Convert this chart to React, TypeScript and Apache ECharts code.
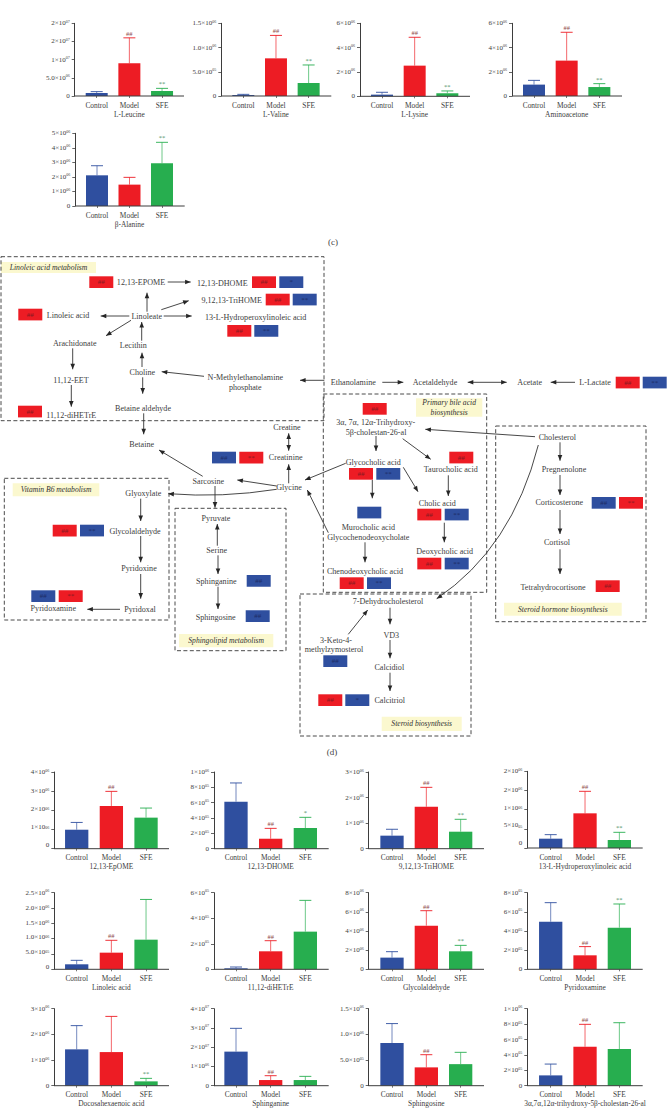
import React, { useEffect, useRef } from "react";
import * as echarts from "echarts";

const W = 667;
const H = 1110;
const SERIF = '"Liberation Serif", serif';
const INK = "#3d3d3d";
const BLUE = "#2f4f9f";
const RED = "#ed1c24";
const GREEN = "#27ae4f";
const categories = ["Control", "Model", "SFE"];
const barColors = [BLUE, RED, GREEN];
const sigColors = ["#555", "#8f4a4a", "#4f9468"];

// ---- bar-chart values: means, upper error limits, tick labels, significance
const leucineMean = [8.3e5, 8.99e6, 1.38e6];
const leucineUpper = [1.2e6, 1.6e7, 2.1e6];
const leucineTicks = ["0", "5.0×10^06", "1×10^07", "2×10^07", "2×10^07"];
const leucineSig = ["", "##", "**"];

const valineMean = [2e4, 7.77e5, 2.68e5];
const valineUpper = [3.4e4, 1.25e6, 6.4e5];
const valineTicks = ["0", "5.0×10^05", "1.0×10^06", "1.5×10^06"];
const valineSig = ["", "##", "**"];

const lysineMean = [1.37e5, 2.52e6, 2.5e5];
const lysineUpper = [3.3e5, 4.85e6, 4.4e5];
const lysineTicks = ["0", "2×10^06", "4×10^06", "6×10^06"];
const lysineSig = ["", "##", "**"];

const aminoacetoneMean = [9.4e5, 2.92e6, 7.4e5];
const aminoacetoneUpper = [1.29e6, 5.26e6, 1.02e6];
const aminoacetoneTicks = ["0", "2×10^06", "4×10^06", "6×10^06"];
const aminoacetoneSig = ["", "##", "**"];

const alanineMean = [2.11e6, 1.47e6, 2.94e6];
const alanineUpper = [2.77e6, 1.97e6, 4.38e6];
const alanineTicks = ["0", "1×10^06", "2×10^06", "3×10^06", "4×10^06", "5×10^06"];
const alanineSig = ["", "", "**"];

const epomeMean = [9.9e5, 2.23e6, 1.62e6];
const epomeUpper = [1.37e6, 2.99e6, 2.12e6];
const epomeTicks = ["0", "1×10^06", "2×10^06", "3×10^06", "4×10^06"];
const epomeSig = ["", "##", ""];

const dhomeMean = [6.13e5, 1.3e5, 2.7e5];
const dhomeUpper = [8.57e5, 2.65e5, 4.09e5];
const dhomeTicks = ["0", "2×10^05", "4×10^05", "6×10^05", "8×10^05", "1×10^06"];
const dhomeSig = ["", "##", "*"];

const trihomeMean = [5.1e5, 1.64e6, 6.65e5];
const trihomeUpper = [7.6e5, 2.4e6, 1.15e6];
const trihomeTicks = ["0", "1×10^06", "2×10^06", "3×10^06"];
const trihomeSig = ["", "##", "**"];

const hydroMean = [2.43e5, 9.04e5, 2.09e5];
const hydroUpper = [3.48e5, 1.478e6, 4.09e5];
const hydroTicks = ["0", "5×10^05", "1×10^06", "2×10^06", "2×10^06"];
const hydroSig = ["", "##", "**"];

const linoleicMean = [1.63e5, 5.43e5, 9.67e5];
const linoleicUpper = [2.93e5, 9.46e5, 2.28e6];
const linoleicTicks = ["0", "5.0×10^05", "1.0×10^06", "1.5×10^06", "2.0×10^06", "2.5×10^06"];
const linoleicSig = ["", "##", ""];

const dihetreMean = [7.8e3, 1.41e5, 2.95e5];
const dihetreUpper = [1.8e4, 2.24e5, 5.4e5];
const dihetreTicks = ["0", "2×10^05", "4×10^05", "6×10^05"];
const dihetreSig = ["", "##", ""];

const glycolaldehydeMean = [1.22e6, 4.56e6, 1.88e6];
const glycolaldehydeUpper = [1.84e6, 6.12e6, 2.5e6];
const glycolaldehydeTicks = ["0", "2×10^06", "4×10^06", "6×10^06", "8×10^06"];
const glycolaldehydeSig = ["", "##", "**"];

const pyridoxamineMean = [4.97e5, 1.46e5, 4.35e5];
const pyridoxamineUpper = [6.96e5, 2.37e5, 6.82e5];
const pyridoxamineTicks = ["0", "2×10^05", "4×10^05", "6×10^05", "8×10^05"];
const pyridoxamineSig = ["", "##", "**"];

const dhaMean = [1.416e6, 1.31e6, 1.69e5];
const dhaUpper = [2.34e6, 2.7e6, 2.86e5];
const dhaTicks = ["0", "1×10^06", "2×10^06", "3×10^06"];
const dhaSig = ["", "", "**"];

const sphinganineMean = [1.77e7, 2.94e6, 2.94e6];
const sphinganineUpper = [2.98e7, 5.2e6, 4.85e6];
const sphinganineTicks = ["0", "1×10^06", "2×10^07", "3×10^07", "4×10^07"];
const sphinganineSig = ["", "##", ""];

const sphingosineMean = [8.3e5, 3.57e5, 4.2e5];
const sphingosineUpper = [1.21e6, 6.04e5, 6.5e5];
const sphingosineTicks = ["0", "5.0×10^05", "1.0×10^06", "1.5×10^06"];
const sphingosineSig = ["", "##", ""];

const trihydroxyMean = [1.34e5, 5.06e5, 4.76e5];
const trihydroxyUpper = [2.81e5, 7.97e5, 8.18e5];
const trihydroxyTicks = ["0", "2×10^05", "4×10^05", "6×10^05", "8×10^05", "1×10^06"];
const trihydroxySig = ["", "##", ""];

// how far the printed tick labels sit above their ticks in three panels (px)
const epomeLabelLift = [4, 2.3, 1, 0, 0];
const hydroLabelLift = [4.7, 3.5, 1.7, 0.8, 0];
const linoleicLabelLift = [2.3, 1.7, 1.3, 0, 0, 0];

// ---- panel table: [title, mean, upper, ticks, sig, axis max, interval, layout, label lift]
const colA = { axisL: 54.3, axisR: 169, c0: 76.7, band: 34.67, barW: 23.3 };
const colB = { axisL: 214, axisR: 328.7, c0: 236, band: 34.67, barW: 23.3 };
const colC = { axisL: 368.7, axisR: 484, c0: 392, band: 34.33, barW: 23.3 };
const colD = { axisL: 527.3, axisR: 642.7, c0: 550.7, band: 34.33, barW: 23.3 };

const panels: any[] = [
  ["L-Leucine", leucineMean, leucineUpper, leucineTicks, leucineSig, 2e7, 5e6, { axisL: 74.7, axisR: 184, c0: 96.7, band: 32.67, barW: 22, top: 23.3, base: 96 }],
  ["L-Valine", valineMean, valineUpper, valineTicks, valineSig, 1.5e6, 5e5, { axisL: 221.3, axisR: 331.3, c0: 243.3, band: 32.67, barW: 22, top: 23.3, base: 96 }],
  ["L-Lysine", lysineMean, lysineUpper, lysineTicks, lysineSig, 6e6, 2e6, { axisL: 360, axisR: 470, c0: 382, band: 32.67, barW: 22, top: 23.3, base: 96.3 }],
  ["Aminoacetone", aminoacetoneMean, aminoacetoneUpper, aminoacetoneTicks, aminoacetoneSig, 6e6, 2e6, { axisL: 512, axisR: 622, c0: 534, band: 32.67, barW: 22, top: 23.3, base: 96 }],
  ["β-Alanine", alanineMean, alanineUpper, alanineTicks, alanineSig, 5e6, 1e6, { axisL: 75.3, axisR: 184.7, c0: 97, band: 32.5, barW: 22, top: 133.3, base: 206 }],
  ["12,13-EpOME", epomeMean, epomeUpper, epomeTicks, epomeSig, 4e6, 1e6, { ...colA, top: 772, base: 848.7 }, epomeLabelLift],
  ["12,13-DHOME", dhomeMean, dhomeUpper, dhomeTicks, dhomeSig, 1e6, 2e5, { ...colB, top: 772, base: 848.7 }],
  ["9,12,13-TriHOME", trihomeMean, trihomeUpper, trihomeTicks, trihomeSig, 3e6, 1e6, { ...colC, top: 772, base: 848.7 }],
  ["13-L-Hydroperoxylinoleic acid", hydroMean, hydroUpper, hydroTicks, hydroSig, 2e6, 5e5, { ...colD, top: 771.3, base: 848 }, hydroLabelLift],
  ["Linoleic acid", linoleicMean, linoleicUpper, linoleicTicks, linoleicSig, 2.5e6, 5e5, { ...colA, top: 892.7, base: 969.3 }, linoleicLabelLift],
  ["11,12-diHETrE", dihetreMean, dihetreUpper, dihetreTicks, dihetreSig, 6e5, 2e5, { ...colB, top: 892.7, base: 969.3 }],
  ["Glycolaldehyde", glycolaldehydeMean, glycolaldehydeUpper, glycolaldehydeTicks, glycolaldehydeSig, 8e6, 2e6, { ...colC, top: 892.7, base: 969.3 }],
  ["Pyridoxamine", pyridoxamineMean, pyridoxamineUpper, pyridoxamineTicks, pyridoxamineSig, 8e5, 2e5, { ...colD, top: 892.7, base: 969.3 }],
  ["Docosahexaenoic acid", dhaMean, dhaUpper, dhaTicks, dhaSig, 3e6, 1e6, { ...colA, top: 1008.7, base: 1085.7 }],
  ["Sphinganine", sphinganineMean, sphinganineUpper, sphinganineTicks, sphinganineSig, 4e7, 1e7, { ...colB, top: 1008.7, base: 1085.7 }],
  ["Sphingosine", sphingosineMean, sphingosineUpper, sphingosineTicks, sphingosineSig, 1.5e6, 5e5, { ...colC, top: 1008.7, base: 1085.7 }],
  ["3α,7α,12α-trihydroxy-5β-cholestan-26-al", trihydroxyMean, trihydroxyUpper, trihydroxyTicks, trihydroxySig, 1e6, 2e5, { ...colD, top: 1008.7, base: 1085.7 }],
];

// ---- pathway diagram
// label, centre x, centre y
const nodes: [string, number, number][] = [
  ["12,13-EPOME", 141, 282], ["12,13-DHOME", 222.3, 283.7], ["9,12,13-TriHOME", 231.7, 300],
  ["13-L-Hydroperoxylinoleic acid", 255.7, 317.7], ["Linoleic acid", 68, 315.7], ["Linoleate", 146.7, 316],
  ["Arachidonate", 74.7, 343.3], ["Lecithin", 133.3, 345.3], ["Choline", 142.3, 372.3],
  ["N-Methylethanolamine", 245.3, 377.3], ["phosphate", 245.3, 387.3], ["11,12-EET", 71, 380],
  ["11,12-diHETrE", 71.3, 415], ["Betaine aldehyde", 143, 408.7], ["Betaine", 141.7, 444.3],
  ["Creatine", 287, 427.7], ["Creatinine", 285.7, 457.7], ["Glycine", 289, 487.3], ["Sarcosine", 208.3, 481],
  ["Glyoxylate", 143.3, 493.7], ["Glycolaldehyde", 135, 531], ["Pyridoxine", 139, 568.3],
  ["Pyridoxal", 140, 609.3], ["Pyridoxamine", 53.3, 608.3], ["Pyruvate", 216, 518], ["Serine", 216.7, 550.3],
  ["Sphinganine", 216.3, 581], ["Sphingosine", 215.7, 617.7], ["Ethanolamine", 353.3, 382.3],
  ["Acetaldehyde", 435, 382.3], ["Acetate", 529.7, 382.3], ["L-Lactate", 595, 382.3],
  ["3α, 7α, 12α-Trihydroxy-", 375.7, 422.7], ["5β-cholestan-26-al", 376, 432], ["Glycocholic acid", 373.3, 462.3],
  ["Taurocholic acid", 450.7, 469.7], ["Cholic acid", 437.3, 503], ["Murocholic acid", 368.3, 527],
  ["Glycochenodeoxycholate", 368.3, 537], ["Deoxycholic acid", 444.7, 551.7], ["Chenodeoxycholic acid", 365, 571],
  ["Cholesterol", 557.3, 437], ["Pregnenolone", 564, 469], ["Corticosterone", 559.3, 502.3], ["Cortisol", 557, 542.3],
  ["Tetrahydrocortisone", 553, 587.3], ["7-Dehydrocholesterol", 388, 601], ["VD3", 391.3, 635],
  ["3-Keto-4-", 336, 640.7], ["methylzymosterol", 334, 649.7], ["Calcidiol", 389.3, 667.3], ["Calcitriol", 389.7, 700.7],
];

// colour (r/b), left x, top y, mark
const badges: [string, number, number, string][] = [
  ["r", 89.3, 276.3, "##"], ["r", 252, 276.3, "##"], ["b", 279.3, 276.3, "*"], ["r", 265.7, 293.7, "##"], ["b", 292.7, 293.7, "**"],
  ["r", 18.3, 308.7, "##"], ["r", 227.3, 325, "##"], ["b", 254.3, 325, "**"], ["r", 18, 405.7, "##"],
  ["r", 615.7, 376.7, "##"], ["b", 642.7, 376.7, "**"], ["r", 362.7, 403, "##"], ["r", 449.3, 451.7, "##"],
  ["r", 349, 468, "##"], ["b", 376.3, 468, "**"], ["b", 357.3, 506.7, ""], ["r", 417.3, 508.7, "##"], ["b", 444.7, 508.7, "**"],
  ["r", 417.3, 557.7, "##"], ["b", 444.7, 557.7, "**"], ["r", 339.7, 577.3, "##"], ["b", 367, 577.3, "**"],
  ["b", 591.7, 497, "##"], ["r", 619, 497, "**"], ["r", 595.7, 580.3, "##"], ["b", 212, 451.7, "##"], ["r", 239.3, 451.7, "**"],
  ["r", 52.7, 524.7, "##"], ["b", 80, 524.7, "**"], ["b", 31.3, 590.3, "##"], ["r", 58.7, 590.3, "**"],
  ["b", 246.7, 575, "##"], ["b", 245.7, 610.3, "##"], ["b", 323.3, 655.3, "##"], ["r", 318.3, 694.3, "##"], ["b", 345.3, 694.3, "*"],
];

// x1, y1, x2, y2, double-headed
const arrows: [number, number, number, number, boolean?][] = [
  [167.7, 282, 190.7, 282], [147, 311.7, 147, 292.7], [161.3, 309.7, 188.7, 300.7], [163.7, 316, 191.7, 316],
  [129.3, 316, 100.7, 316], [131, 320.3, 106, 335.7], [72.7, 348.3, 72.7, 369.3], [71.3, 385, 71.3, 406.7],
  [141.7, 340.7, 141.7, 322], [142, 367, 142, 352.7], [204, 376.3, 161.7, 371.7], [324.3, 380.3, 300, 380.3],
  [142.7, 377.3, 142.7, 393.7], [143.7, 413.3, 143.7, 434.3], [288.7, 433.3, 288.7, 450.7, true], [288.7, 483.3, 288.7, 464.3],
  [202.7, 476.3, 159, 450], [276.7, 486, 237.3, 480], [215, 486, 215, 507.7], [140.7, 498.7, 140.7, 521],
  [140.7, 536, 140.7, 562.3], [140.7, 574, 140.7, 598.7], [120, 609.3, 87.3, 609.3], [217.3, 545.7, 217.3, 524],
  [218, 555.3, 218, 574], [218, 586.7, 218, 609], [328.3, 532.7, 307.3, 490], [345.7, 463.3, 305, 480],
  [382.3, 382.3, 403.3, 382.3], [467.7, 382.3, 506.7, 382.3, true], [575, 382.3, 550.7, 382.3], [535, 436.7, 425.3, 429.3],
  [376, 436, 376, 451], [402.7, 438.7, 430.7, 459.3], [448.3, 475.3, 448.3, 496], [403.3, 467.3, 418, 491.7],
  [372.3, 480, 372.3, 498.3], [444.3, 522.7, 444.3, 542.3], [365, 542.3, 365, 562.3], [560, 442.3, 560, 460.7],
  [560, 475, 560, 495], [560, 510, 560, 534], [560, 549.3, 560, 574], [348.3, 634.3, 367.7, 610],
  [390, 607.7, 390, 624.3], [390, 640, 390, 658.3], [390, 672.7, 390, 691],
];

// x1, y1, control x, control y, x2, y2
const curves: [number, number, number, number, number, number][] = [
  [276.7, 489.3, 222, 498, 168.3, 493.7],
  [538.3, 445, 512, 548, 436.7, 598.7],
];

// left, top, right, bottom
const dashedBoxes: [number, number, number, number][] = [
  [1, 256.7, 324, 420.7], [323.3, 394, 486.7, 592.3], [495.7, 426, 646, 621.7],
  [4.3, 478.3, 169, 620], [175, 508.3, 286, 650.7], [300, 594, 471, 736],
];

// left, top, right, bottom, lines of text
const pathwayLabels: [number, number, number, number, string[]][] = [
  [1, 262, 96, 273, ["Linoleic acid metabolism"]],
  [416, 398.3, 482.3, 416.7, ["Primary bile acid", "biosynthesis"]],
  [504, 602.7, 621.7, 615.7, ["Steroid hormone biosynthesis"]],
  [12.7, 483.3, 99.3, 496.3, ["Vitamin B6 metabolism"]],
  [179, 634, 273.3, 647.3, ["Sphingolipid metabolism"]],
  [381.7, 716.7, 461.7, 731, ["Steroid biosynthesis"]],
];

const figureLetters: [string, number, number][] = [["(c)", 333, 242], ["(d)", 332, 751.7]];

function arrowHead(x: number, y: number, fromX: number, fromY: number) {
  const a = Math.atan2(y - fromY, x - fromX);
  const len = 5.6, hw = 2.3;
  const bx = x - Math.cos(a) * len, by = y - Math.sin(a) * len;
  return {
    type: "polygon", silent: true,
    shape: { points: [[x, y], [bx - Math.sin(a) * hw, by + Math.cos(a) * hw], [bx + Math.sin(a) * hw, by - Math.cos(a) * hw]] },
    style: { fill: "#262626" },
  };
}

function buildGraphic() {
  const el: any[] = [];
  pathwayLabels.forEach(([l, t, r, b]) => {
    el.push({ type: "rect", silent: true, shape: { x: l, y: t, width: r - l, height: b - t }, style: { fill: "#fbf8cf" } });
  });
  dashedBoxes.forEach(([l, t, r, b]) => {
    el.push({ type: "rect", silent: true, shape: { x: l, y: t, width: r - l, height: b - t }, style: { fill: "none", stroke: "#4a4a4a", lineWidth: 1, lineDash: [4, 2.4] } });
  });
  pathwayLabels.forEach(([l, t, r, b, lines], i) => {
    const lh = 9.4;
    lines.forEach((s, k) => {
      el.push({
        type: "text", silent: true, x: (l + r) / 2, y: (t + b) / 2 + (k - (lines.length - 1) / 2) * lh,
        style: { text: s, align: "center", verticalAlign: "middle", fontFamily: SERIF, fontStyle: "italic", fontSize: i === 0 ? 7.7 : 7.6, fill: "#333" },
      });
    });
  });
  arrows.forEach(([x1, y1, x2, y2, both]) => {
    el.push({ type: "line", silent: true, shape: { x1, y1, x2, y2 }, style: { stroke: "#333", lineWidth: 0.9 } });
    el.push(arrowHead(x2, y2, x1, y1));
    if (both) el.push(arrowHead(x1, y1, x2, y2));
  });
  curves.forEach(([x1, y1, cx, cy, x2, y2]) => {
    el.push({ type: "bezierCurve", silent: true, shape: { x1, y1, cpx1: cx, cpy1: cy, x2, y2 }, style: { stroke: "#333", lineWidth: 0.9, fill: "none" } });
    el.push(arrowHead(x2, y2, cx, cy));
  });
  badges.forEach(([c, x, y, mark]) => {
    el.push({ type: "rect", silent: true, shape: { x, y, width: 24, height: 11.7 }, style: { fill: c === "r" ? RED : BLUE } });
    if (mark) {
      el.push({
        type: "text", silent: true, x: x + 12, y: y + 6,
        style: { text: mark, align: "center", verticalAlign: "middle", fontFamily: SERIF, fontSize: 7, fill: c === "r" ? "#861a22" : "#1d2c66" },
      });
    }
  });
  nodes.forEach(([s, x, y]) => {
    el.push({
      type: "text", silent: true, x, y,
      style: { text: s, align: "center", verticalAlign: "middle", fontFamily: SERIF, fontSize: 8.1, fill: "#404040" },
    });
  });
  figureLetters.forEach(([s, x, y]) => {
    el.push({ type: "text", silent: true, x, y, style: { text: s, align: "center", verticalAlign: "middle", fontFamily: SERIF, fontSize: 9, fill: "#444" } });
  });
  // x-axis baselines run past the outer category bands
  panels.forEach((p) => {
    const g = p[7];
    el.push({ type: "line", silent: true, z: 5, shape: { x1: g.axisL, y1: g.base, x2: g.axisR, y2: g.base }, style: { stroke: INK, lineWidth: 1 } });
  });
  return el;
}

function buildOption() {
  const grid: any[] = [], xAxis: any[] = [], yAxis: any[] = [], series: any[] = [];
  panels.forEach((p, i) => {
    const [title, mean, upper, ticks, sig, max, interval, g, lift] = p;
    const left = g.c0 - g.band / 2;
    const rich: any = {};
    ticks.forEach((_t: string, k: number) => {
      const pad = [0, 0, 2 * (lift ? lift[k] : 0), 0];
      rich[`b${k}`] = { fontFamily: SERIF, fontSize: 7, color: INK, lineHeight: 8, padding: pad };
      rich[`s${k}`] = { fontFamily: SERIF, fontSize: 4, color: INK, lineHeight: 8, verticalAlign: "top", padding: pad };
    });
    grid.push({ left, top: g.top, width: g.band * 3, height: g.base - g.top, containLabel: false });
    xAxis.push({
      type: "category", gridIndex: i, data: categories,
      name: title, nameLocation: "middle", nameGap: 14.5,
      nameTextStyle: { fontFamily: SERIF, fontSize: 7.4, color: INK },
      axisLine: { show: false },
      axisTick: { show: true, alignWithLabel: true, length: 2, lineStyle: { color: INK, width: 0.7 } },
      axisLabel: { fontFamily: SERIF, fontSize: 7.4, color: INK, margin: 5.5, interval: 0 },
    });
    yAxis.push({
      type: "value", gridIndex: i, min: 0, max, interval, offset: left - g.axisL,
      splitLine: { show: false },
      axisLine: { show: true, lineStyle: { color: INK, width: 1 } },
      axisTick: { show: true, length: 3, lineStyle: { color: INK, width: 0.8 } },
      axisLabel: {
        margin: 5, showMinLabel: true, showMaxLabel: true, hideOverlap: false,
        fontFamily: SERIF, fontSize: 7, color: INK,
        formatter: (_v: number, idx: number) => {
          const t = ticks[idx] ?? "";
          const [b, s] = t.split("^");
          return s ? `{b${idx}|${b}}{s${idx}|${s}}` : `{b${idx}|${b}}`;
        },
        rich,
      },
    });
    series.push({
      type: "bar", xAxisIndex: i, yAxisIndex: i, barWidth: g.barW, silent: true,
      data: mean.map((v: number, k: number) => ({ value: v, itemStyle: { color: barColors[k] } })),
    });
    series.push({
      type: "custom", xAxisIndex: i, yAxisIndex: i, silent: true, z: 1,
      data: mean.map((v: number, k: number) => [k, v, upper[k]]),
      encode: { x: 0, y: [1, 2] },
      renderItem: (params: any, api: any) => {
        const k = params.dataIndex;
        const a = api.coord([api.value(0), api.value(1)]);
        const b = api.coord([api.value(0), api.value(2)]);
        const col = barColors[k];
        const children: any[] = [
          { type: "line", shape: { x1: a[0], y1: a[1], x2: b[0], y2: b[1] }, style: { stroke: col, lineWidth: 0.9, opacity: 0.75 } },
          { type: "line", shape: { x1: b[0] - 6, y1: b[1], x2: b[0] + 6, y2: b[1] }, style: { stroke: col, lineWidth: 0.9 } },
        ];
        if (sig[k]) {
          children.push({
            type: "text",
            style: { text: sig[k], x: b[0], y: b[1] - 1, align: "center", verticalAlign: "bottom", fontFamily: SERIF, fontSize: 6.5, fill: sigColors[k] },
          });
        }
        return { type: "group", children };
      },
    });
  });
  return { animation: false, backgroundColor: "#fff", grid, xAxis, yAxis, series, graphic: { elements: buildGraphic() } };
}

export default function App() {
  const ref = useRef<HTMLDivElement>(null);
  useEffect(() => {
    const chart = echarts.init(ref.current!, undefined, { renderer: "svg" });
    chart.setOption(buildOption());
    return () => chart.dispose();
  }, []);
  return <div ref={ref} style={{ position: "absolute", left: 0, top: 0, width: W, height: H }} />;
}
